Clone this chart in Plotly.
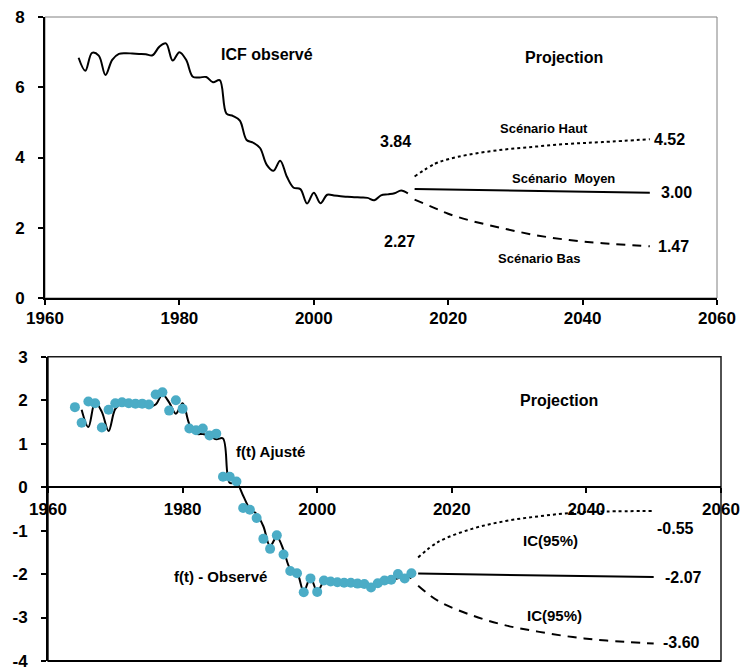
import plotly.graph_objects as go

W, H = 740, 671

# ---------------- data: top chart (ICF) ----------------
icf_years = list(range(1965, 2015))
icf_obs = [6.84, 6.47, 6.98, 6.90, 6.35, 6.78, 6.95, 6.97, 6.96, 6.95,
           6.94, 6.91, 7.15, 7.25, 6.76, 7.00, 6.78, 6.30, 6.28, 6.29,
           6.14, 6.20, 5.25, 5.18, 5.05, 4.50, 4.42, 4.27, 3.79, 3.62,
           3.91, 3.45, 3.14, 3.10, 2.69, 3.00, 2.70, 2.94, 2.92, 2.90,
           2.88, 2.87, 2.86, 2.85, 2.78, 2.92, 2.95, 2.98, 3.06, 2.98]

proj_years = [2015, 2018, 2020, 2023, 2028, 2033, 2038, 2043, 2050]
icf_haut = [3.46, 3.82, 3.95, 4.08, 4.22, 4.31, 4.39, 4.44, 4.52]
icf_bas = [2.80, 2.56, 2.40, 2.22, 1.99, 1.79, 1.65, 1.56, 1.47]
moyen_years = [2015, 2050]
icf_moyen = [3.10, 3.00]

# ---------------- data: bottom chart f(t) ----------------
ft_years = list(range(1964, 2015))
ft_obs = [1.84, 1.48, 1.97, 1.93, 1.37, 1.78, 1.93, 1.95, 1.93, 1.92,
          1.92, 1.90, 2.13, 2.18, 1.76, 2.00, 1.80, 1.35, 1.31, 1.35,
          1.19, 1.23, 0.24, 0.24, 0.13, -0.48, -0.52, -0.71, -1.19, -1.42,
          -1.11, -1.55, -1.93, -1.98, -2.42, -2.10, -2.41, -2.15, -2.17, -2.19,
          -2.20, -2.20, -2.22, -2.23, -2.31, -2.21, -2.15, -2.13, -2.00, -2.10,
          -1.98]

fit_years = list(range(1965, 2015))
ft_fit = [1.78, 1.38, 1.95, 1.73, 1.29, 1.80, 1.93, 1.92, 1.91, 1.90,
          1.85, 1.90, 2.13, 1.95, 1.69, 1.93, 1.45, 1.23, 1.22, 1.18,
          1.10, 1.12, 0.10, 0.10, -0.20, -0.50, -0.62, -0.90, -1.36, -1.14,
          -1.45, -1.88, -1.97, -2.40, -2.08, -2.40, -2.18, -2.18, -2.19, -2.20,
          -2.20, -2.21, -2.22, -2.25, -2.27, -2.18, -2.14, -2.10, -2.02, -2.10]

ci_years = [2015, 2018, 2023, 2028, 2033, 2038, 2043, 2050]
ft_ci_up = [-1.62, -1.26, -0.96, -0.78, -0.67, -0.59, -0.56, -0.55]
ft_ci_low = [-2.27, -2.62, -2.95, -3.18, -3.33, -3.45, -3.53, -3.60]
ft_mid_years = [2015, 2050]
ft_mid = [-1.99, -2.07]

# ticks
x_ticks = [1960, 1980, 2000, 2020, 2040, 2060]
y1_ticks = [0, 2, 4, 6, 8]
y2_ticks = [-4, -3, -2, -1, 0, 1, 2, 3]

FONT = "Liberation Sans, Arial, sans-serif"
DOT = "#4BACC6"

fig = go.Figure()

# top traces
fig.add_trace(go.Scatter(x=icf_years, y=icf_obs, mode="lines", line=dict(color="black", width=2, shape="spline"),
                         xaxis="x", yaxis="y", showlegend=False))
fig.add_trace(go.Scatter(x=proj_years, y=icf_haut, mode="lines", line=dict(color="black", width=2, dash="dot", shape="spline"),
                         xaxis="x", yaxis="y", showlegend=False))
fig.add_trace(go.Scatter(x=moyen_years, y=icf_moyen, mode="lines", line=dict(color="black", width=2),
                         xaxis="x", yaxis="y", showlegend=False))
fig.add_trace(go.Scatter(x=proj_years, y=icf_bas, mode="lines", line=dict(color="black", width=2, dash="9px,7px", shape="spline"),
                         xaxis="x", yaxis="y", showlegend=False))

# bottom traces
fig.add_trace(go.Scatter(x=fit_years, y=ft_fit, mode="lines", line=dict(color="black", width=2, shape="spline"),
                         xaxis="x2", yaxis="y2", showlegend=False))
fig.add_trace(go.Scatter(x=ft_years, y=ft_obs, mode="markers", marker=dict(color=DOT, size=10),
                         xaxis="x2", yaxis="y2", showlegend=False))
fig.add_trace(go.Scatter(x=ci_years, y=ft_ci_up, mode="lines", line=dict(color="black", width=2, dash="dot", shape="spline"),
                         xaxis="x2", yaxis="y2", showlegend=False))
fig.add_trace(go.Scatter(x=ft_mid_years, y=ft_mid, mode="lines", line=dict(color="black", width=2),
                         xaxis="x2", yaxis="y2", showlegend=False))
fig.add_trace(go.Scatter(x=ci_years, y=ft_ci_low, mode="lines", line=dict(color="black", width=2, dash="9px,7px", shape="spline"),
                         xaxis="x2", yaxis="y2", showlegend=False))

tickfont = dict(family=FONT, size=17, color="black", weight="bold")
common_axis = dict(showgrid=False, zeroline=False, showline=True, linecolor="black", linewidth=2,
                   ticks="outside", ticklen=5, tickwidth=1.5, tickcolor="black", tickfont=tickfont,
                   automargin=False, fixedrange=True, ticklabeloverflow="allow")

y1_dom = [1 - 298 / H, 1 - 17 / H]
y2_dom = [1 - 661 / H, 1 - 356.7 / H]
ymin2, ymax2 = min(y2_ticks), max(y2_ticks)
zero_pos = y2_dom[0] + (y2_dom[1] - y2_dom[0]) * (0 - ymin2) / (ymax2 - ymin2)

fig.update_layout(
    width=W, height=H,
    margin=dict(l=0, r=0, t=0, b=0),
    paper_bgcolor="white", plot_bgcolor="white",
    showlegend=False,
    xaxis=dict(domain=[45 / W, 717 / W], anchor="y", range=[1960, 2060],
               tickvals=x_ticks, ticktext=[str(v) for v in x_ticks], ticklabelstandoff=-1, **common_axis),
    yaxis=dict(domain=y1_dom, anchor="x", range=[0, 8],
               tickvals=y1_ticks, ticktext=[str(v) for v in y1_ticks], ticklabelstandoff=10, **common_axis),
    xaxis2=dict(domain=[48 / W, 721 / W], anchor="free", position=zero_pos, range=[1960, 2060],
                tickvals=x_ticks, ticktext=[str(v) for v in x_ticks], ticklabelstandoff=1, **common_axis),
    yaxis2=dict(domain=y2_dom, anchor="x2", range=[ymin2, ymax2],
                tickvals=y2_ticks, ticktext=[str(v) for v in y2_ticks], ticklabelstandoff=10, **common_axis),
)

# frames
fig.add_shape(type="rect", xref="x domain", yref="y domain", x0=0, x1=1, y0=0, y1=1,
              line=dict(color="#808080", width=1), layer="below")
fig.add_shape(type="rect", xref="x2 domain", yref="y2 domain", x0=0, x1=1, y0=0, y1=1,
              line=dict(color="#1a1a1a", width=1.5), layer="below")
fig.add_shape(type="line", xref="x2 domain", yref="y2 domain", x0=0, x1=1, y0=0, y1=0,
              line=dict(color="black", width=2), layer="below")


def label(text, x, y, ax="x", ay="y", size=16):
    fig.add_annotation(text=text, x=x, y=y, xref=ax, yref=ay, showarrow=False,
                       font=dict(family=FONT, size=size, color="black", weight="bold"),
                       xanchor="center", yanchor="middle")


# top labels
label("ICF observé", 1993.0, 6.93)
label("Projection", 2037.2, 6.85)
label("3.84", 2012.1, 4.45)
label("2.27", 2012.7, 1.62)
label("Scénario Haut", 2034.3, 4.82, size=13)
label("4.52", 2053.0, 4.51)
label("Scénario  Moyen", 2037.2, 3.39, size=13)
label("3.00", 2054.0, 2.99)
label("1.47", 2053.6, 1.48)
label("Scénario Bas", 2033.5, 1.13, size=13)

# bottom labels
label("Projection", 2035.9, 1.99, "x2", "y2")
label("f(t) Ajusté", 1993.1, 0.83, "x2", "y2", size=15)
label("f(t) - Observé", 1985.7, -2.05, "x2", "y2", size=15)
label("IC(95%)", 2034.7, -1.23, "x2", "y2", size=15)
label("IC(95%)", 2035.3, -2.96, "x2", "y2", size=15)
label("-0.55", 2053.3, -0.95, "x2", "y2")
label("-2.07", 2054.5, -2.09, "x2", "y2")
label("-3.60", 2054.1, -3.58, "x2", "y2")

fig.write_html("out.html")
